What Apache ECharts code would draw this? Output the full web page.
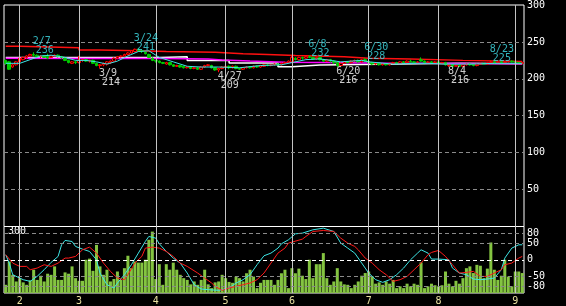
<!DOCTYPE html>
<html><head><meta charset="utf-8">
<script src="https://cdn.jsdelivr.net/npm/echarts@6/dist/echarts.min.js"></script>
<style>html,body{margin:0;padding:0;background:#000;}#c{width:566px;height:306px;}</style>
</head><body><div id="c"></div>
<script>
// daily candles [open, close, low, high]
const ohlc = [
[225,221,219,226],[223,213,212,224],[216,219,215,220],[219,223,218,224],
[223,228,222,229],[226,229,225,230],[229,231,227,232],[231,233,230,234],[233,232,230,236],
[232,230,229,233],[230,231,228,232],[231,229,228,232],[230,228,227,234],[229,231,228,232],
[231,232,230,233],[232,230,229,233],[230,229,227,231],[228,225,224,229],[225,222,221,226],
[221,223,220,224],[223,222,220,224],
[222,225,221,231],[225,226,223,227],[226,224,223,227],[224,225,222,226],[225,221,220,226],
[221,218,217,222],[218,219,214,220],[219,221,217,222],[220,223,218,224],[222,224,220,225],
[224,228,223,229],[228,230,227,231],[230,231,229,232],[231,233,230,234],[233,235,232,236],
[235,238,234,239],[237,240,236,241],[240,238,237,241],[238,237,235,240],[236,234,233,237],
[233,229,228,234],[228,225,224,229],
[225,224,222,226],[224,222,221,225],[222,221,220,223],[220,222,219,223],[222,219,218,223],
[219,217,216,220],[217,218,216,219],[218,216,215,219],[217,215,214,218],[215,216,214,217],
[216,214,213,217],[214,215,213,216],[215,213,212,216],[213,216,212,217],[216,218,215,219],
[218,219,217,220],[218,215,214,219],[215,212,211,216],[212,214,209,215],[214,216,213,217],
[216,217,214,218],[217,215,213,218],[215,217,214,218],[217,214,213,218],[214,213,212,215],
[213,215,212,216],[215,216,214,217],[216,215,214,217],[215,217,214,218],[217,216,215,218],
[216,218,215,219],[217,219,216,220],[219,218,217,220],[218,219,217,220],[219,220,218,221],
[220,219,218,221],[219,221,218,222],[221,222,220,223],[222,224,221,225],
[223,229,222,231],[228,226,225,229],[226,229,225,230],[229,228,226,230],[228,230,227,231],
[230,229,228,232],[229,227,226,230],[227,229,226,230],[229,226,225,230],[226,224,223,227],
[224,226,223,227],[226,224,222,227],[224,222,220,225],[222,218,216,223],[218,221,217,222],
[221,223,220,224],[223,222,221,224],[222,224,221,225],[224,225,223,226],[225,223,222,226],
[223,226,222,227],[226,224,223,228],
[224,222,221,225],[222,220,219,223],[220,221,219,222],[221,219,218,222],[219,220,218,221],
[220,219,218,221],[219,221,218,222],[221,222,220,223],[222,221,220,223],[221,223,220,224],
[223,222,221,224],[222,224,221,225],[224,223,222,226],[223,222,221,224],[222,223,221,224],
[226,224,223,229],[224,222,221,225],[222,223,221,224],[223,222,220,224],[222,223,221,224],
[223,221,220,224],[221,222,220,223],[222,219,218,223],[218,219,216,220],[219,217,216,220],
[217,218,217,219],[218,217,216,219],[217,219,216,220],[219,220,218,221],[220,219,218,221],
[219,218,217,220],[218,220,217,221],[220,221,219,222],[221,220,219,222],[220,222,219,223],
[222,223,221,225],[223,222,221,224],[222,223,221,224],[223,222,221,224],[222,223,221,224],
[223,224,222,225],[224,223,222,225],
[223,222,221,224],[222,221,220,223],[221,222,220,223]
];
const volume = [
37,142,82,52,67,48,37,57,105,59,78,52,87,82,120,59,59,93,87,120,67,
55,55,150,155,100,217,120,82,105,52,63,97,59,112,168,112,142,137,137,150,240,277,63,130,37,130,105,137,105,
82,67,59,39,52,37,59,105,39,22,48,52,82,67,50,46,74,
67,52,
89,105,74,22,46,59,59,59,37,59,89,105,22,112,89,110,78,63,150,
67,130,130,180,
67,37,52,112,52,39,37,22,37,52,
78,90,97,75,42,48,37,52,42,59,22,30,22,42,30,42,37,138,22,30,42,35,30,35,97,42,30,55,42,67,112,120,90,127,123,67,110,228,105,59,78,150,74,30,97,97,90
];
const monthStarts = [4,21,43,63,82,104,124,146];
const monthLabels = ['2','3','4','5','6','7','8','9'];
const priceGrid = [50,100,150,200,250];
const oscTicks = [80,50,0,-50,-80];
// moving averages [dayIndex, value]
const maShort = [[0,221],[4,221],[7,226],[10,231],[13,232],[17,229],[20,225],[23,225],[26,223],[29,220],[32,224],[35,231],[38,237],[41,238],[44,229],[48,223],[52,217],[56,216],[61,216],[67,215],[73,218],[79,219],[82,222],[86,226],[90,227],[96,223],[102,225],[104,223],[111,220],[117,221],[121,221],[126,220],[133,220],[140,221],[148,221]];
const maMid = [[0,228],[22,227.5],[45,227.5],[58,227],[62,225.5],[70,224],[80,222.5],[90,222],[104,221.5],[120,221],[148,220.5]];
const maWhite = [[0,229],[44,230],[52,225],[64,221.5],[78,216.5],[82,218.7],[90,221],[130,220.5],[148,220.5]];
const maLong = [[0,244],[4,242],[21,239],[27,238],[38,237],[46,236],[60,234],[68,233],[75,231.5],[83,230],[97,228],[104,227],[116,225],[131,223.5],[148,223.5]];
const oscFast = [[0,15],[1,-10],[2,-45],[4,-55],[5,-60],[7,-65],[9,-50],[11,-30],[13,-8],[15,10],[16,45],[17,58],[19,55],[20,40],[22,32],[24,25],[26,0],[27,-40],[29,-75],[31,-85],[32,-70],[34,-45],[36,-15],[38,20],[40,55],[41,70],[43,65],[44,48],[46,25],[48,5],[50,-10],[52,-40],[54,-75],[56,-88],[58,-90],[61,-92],[64,-85],[66,-70],[68,-60],[70,-45],[72,-15],[74,12],[76,20],[78,35],[79,48],[81,60],[83,78],[85,80],[88,90],[91,95],[94,85],[96,50],[98,35],[100,20],[102,-10],[103,-25],[104,-40],[106,-60],[108,-68],[110,-60],[112,-45],[114,-25],[116,0],[118,20],[119,30],[121,20],[122,2],[124,2],[127,0],[128,-25],[130,-40],[132,-45],[134,-58],[136,-60],[138,-58],[140,-55],[142,-30],[143,5],[145,35],[147,45],[148,45]];
const oscSlow = [[0,15],[2,-10],[4,-20],[6,-20],[7,-30],[9,-25],[11,-15],[13,-20],[15,-10],[17,5],[18,5],[20,10],[22,30],[24,38],[26,20],[28,-10],[30,-35],[32,-55],[34,-60],[35,-45],[37,-10],[39,10],[40,35],[42,38],[44,35],[46,25],[48,10],[50,-10],[52,-20],[55,-40],[57,-55],[59,-70],[60,-80],[62,-92],[64,-85],[66,-80],[68,-75],[70,-70],[72,-60],[74,-40],[76,-10],[78,20],[80,35],[81,50],[85,62],[86,70],[88,85],[91,88],[94,85],[96,65],[98,50],[100,40],[101,30],[103,5],[105,-10],[107,-30],[109,-45],[111,-65],[113,-60],[115,-50],[117,-30],[119,-10],[121,15],[122,22],[124,28],[126,10],[128,-15],[130,-40],[132,-38],[134,-35],[136,-50],[138,-50],[140,-40],[142,-30],[143,-15],[145,-10],[147,5],[148,10]];
const highs = [{i:8,d:'2/7',v:236},{i:37,d:'3/24',v:241},{i:87,d:'6/8',v:232},{i:103,d:'6/30',v:228},{i:139,d:'8/23',v:225}];
const lows = [{i:27,d:'3/9',v:214},{i:61,d:'4/27',v:209},{i:95,d:'6/20',v:216},{i:127,d:'8/4',v:216}];

const FONT = 'DejaVu Sans Mono';
const days = ohlc.map((_, i) => i);
const N = days.length;
const monthLines = monthStarts.map(i => ({xAxis: i}));
const labelRich = (c) => ({
  d: {color: c, fontFamily: FONT, fontSize: 10, lineHeight: 9},
  v: {color: c, fontFamily: FONT, fontSize: 10, lineHeight: 9, padding: [0,0,0,3]}
});

const chart = echarts.init(document.getElementById('c'), null, {renderer: 'canvas'});
chart.setOption({
  animation: false,
  backgroundColor: '#000',
  grid: [
    {left: 4, top: 2, width: 520, height: 224.5, show: true, borderColor: '#fff', borderWidth: 1, backgroundColor: '#000'},
    {left: 4, top: 226.5, width: 520, height: 66.5, show: true, borderColor: '#fff', borderWidth: 1, backgroundColor: '#000'}
  ],
  xAxis: [
    {type: 'category', gridIndex: 0, data: days, axisLine: {show: false}, axisTick: {show: false}, axisLabel: {show: false}, splitLine: {show: false}},
    {type: 'category', gridIndex: 1, data: days, axisLine: {show: false}, axisTick: {show: false}, splitLine: {show: false},
      axisLabel: {interval: (i) => monthStarts.includes(i), formatter: (v, i) => monthLabels[monthStarts.indexOf(i)] || '',
        color: '#e8e0a0', fontFamily: FONT, fontSize: 10, margin: 3}},
    {type: 'value', gridIndex: 0, min: -0.5, max: N - 0.5, show: false},
    {type: 'value', gridIndex: 1, min: -0.5, max: N - 0.5, show: false}
  ],
  yAxis: [
    {type: 'value', gridIndex: 0, position: 'right', min: 0, max: 300, interval: 50,
      axisLine: {show: false}, axisTick: {show: false}, splitLine: {show: false},
      axisLabel: {showMinLabel: false, color: '#fff', fontFamily: FONT, fontSize: 10, margin: 3, padding: [4,0,0,0]}},
    {type: 'value', gridIndex: 1, position: 'right', min: -100, max: 100, interval: 10,
      axisLine: {show: false}, axisTick: {show: false}, splitLine: {show: false},
      axisLabel: {formatter: (v) => oscTicks.includes(v) ? String(v) : '', color: '#fff', fontFamily: FONT, fontSize: 10, margin: 3}},
    {type: 'value', gridIndex: 1, position: 'left', min: 0, max: 300, interval: 300,
      axisLine: {show: false}, axisTick: {show: false}, splitLine: {show: false},
      axisLabel: {inside: true, showMinLabel: false, color: '#fff', fontFamily: FONT, fontSize: 10, margin: 4, verticalAlign: 'top'}}
  ],
  series: [
    {type: 'line', xAxisIndex: 0, yAxisIndex: 0, data: ohlc.map(d => d[1]), symbol: 'none', lineStyle: {opacity: 0}, z: 1, silent: true,
      markLine: {silent: true, symbol: 'none', label: {show: false},
        data: monthLines.map(m => Object.assign({lineStyle: {color: '#c4c4c4', width: 1, type: 'solid'}}, m))
          .concat(priceGrid.map(v => ({yAxis: v, lineStyle: {color: '#8a8a8a', width: 1, type: [4,3]}})))}},
    {type: 'line', xAxisIndex: 2, yAxisIndex: 0, data: maLong, step: 'end', symbol: 'none', lineStyle: {color: '#ff1010', width: 1.5}, z: 2},
    {type: 'line', xAxisIndex: 2, yAxisIndex: 0, data: maWhite, step: 'end', symbol: 'none', lineStyle: {color: '#ffffff', width: 1.5}, z: 2},
    {type: 'line', xAxisIndex: 2, yAxisIndex: 0, data: maMid, symbol: 'none', lineStyle: {color: '#ff00ff', width: 1.5}, z: 2},
    {type: 'candlestick', xAxisIndex: 0, yAxisIndex: 0, data: ohlc, barWidth: 3,
      itemStyle: {color: '#000', color0: '#00cc00', borderColor: '#ff0000', borderColor0: '#00cc00', borderWidth: 1}, z: 3},
    {type: 'line', xAxisIndex: 2, yAxisIndex: 0, data: maShort, symbol: 'none', lineStyle: {color: '#3ee6e6', width: 1}, z: 4},
    {type: 'scatter', xAxisIndex: 2, yAxisIndex: 0, data: highs.map(h => ({value: [h.i, h.v], name: h.d})),
      symbolSize: 1, itemStyle: {color: 'rgba(0,0,0,0)'}, z: 10, silent: true,
      label: {show: true, position: [-0.5, 3.5], align: 'left', verticalAlign: 'bottom',
        formatter: p => '{d|' + p.name + '}\n{v|' + p.value[1] + '}', rich: labelRich('#40e0e8')}},
    {type: 'scatter', xAxisIndex: 2, yAxisIndex: 0, data: lows.map(h => ({value: [h.i, h.v], name: h.d})),
      symbolSize: 1, itemStyle: {color: 'rgba(0,0,0,0)'}, z: 10, silent: true,
      label: {show: true, position: [-0.5, 0.5], align: 'left', verticalAlign: 'top',
        formatter: p => '{d|' + p.name + '}\n{v|' + p.value[1] + '}', rich: labelRich('#ffffff')}},
    {type: 'bar', xAxisIndex: 1, yAxisIndex: 2, data: volume, barWidth: 3, itemStyle: {color: '#84c441'}, z: 1,
      markLine: {silent: true, symbol: 'none', label: {show: false},
        data: monthLines.map(m => Object.assign({lineStyle: {color: '#c4c4c4', width: 1, type: 'solid'}}, m))}},
    {type: 'line', xAxisIndex: 3, yAxisIndex: 1, data: oscFast, symbol: 'none', lineStyle: {color: '#3ee6e6', width: 1}, z: 3},
    {type: 'line', xAxisIndex: 3, yAxisIndex: 1, data: oscSlow, symbol: 'none', lineStyle: {color: '#ff1a1a', width: 1}, z: 3,
      markLine: {silent: true, symbol: 'none', label: {show: false},
        data: oscTicks.map(v => ({yAxis: v, lineStyle: {color: v === 0 ? '#ffffff' : '#8a8a8a', width: 1, type: [4,3]}}))}}
  ]
});
</script>
</body></html>
